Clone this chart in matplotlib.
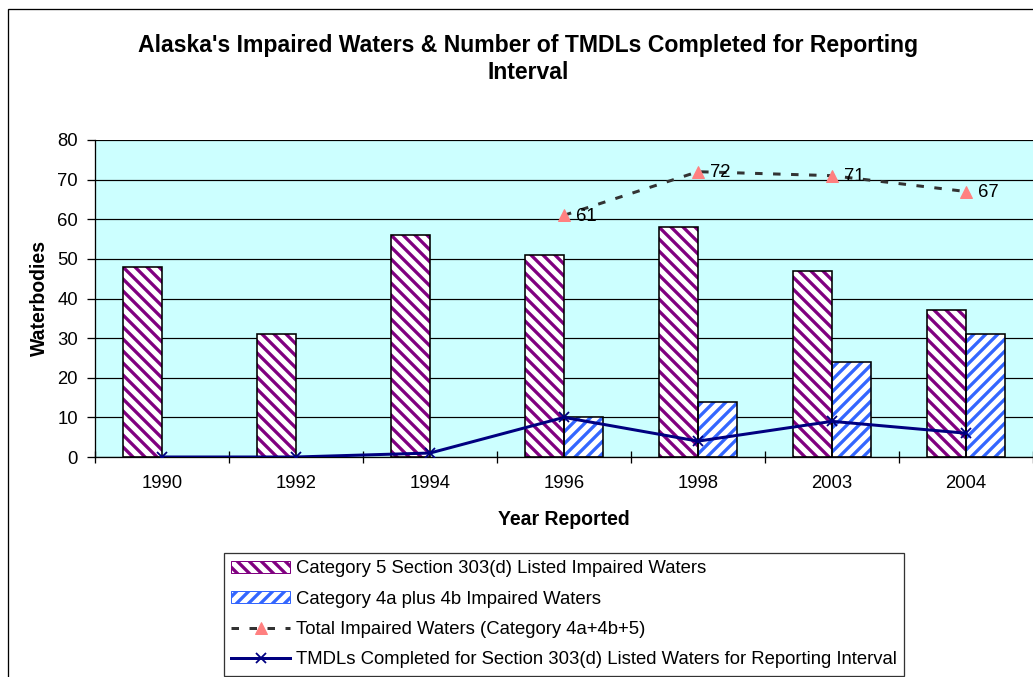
import numpy as np
import matplotlib
matplotlib.use("Agg")
import matplotlib.pyplot as plt
from matplotlib.patches import Rectangle
from matplotlib.lines import Line2D

# drawn at 72 dpi so that 1 pt == 1 px and the hatch tile gives Excel-like stripe spacing
DPI = 72
plt.rcParams["font.family"] = ["Liberation Sans", "DejaVu Sans"]
plt.rcParams["hatch.linewidth"] = 3.3

years = ["1990", "1992", "1994", "1996", "1998", "2003", "2004"]
cat5 = [48, 31, 56, 51, 58, 47, 37]
cat4 = [np.nan, np.nan, np.nan, 10, 14, 24, 31]
total = [np.nan, np.nan, np.nan, 61, 72, 71, 67]
tmdls = [0, 0, 1, 10, 4, 9, 6]

lbl_cat5 = "Category 5 Section 303(d) Listed Impaired Waters"
lbl_cat4 = "Category 4a plus 4b Impaired Waters"
lbl_total = "Total Impaired Waters (Category 4a+4b+5)"
lbl_tmdl = "TMDLs Completed for Section 303(d) Listed Waters for Reporting Interval"

purple = "#800080"
blue = "#3366ff"
W, H = 1033, 677

fig = plt.figure(figsize=(W / DPI, H / DPI), dpi=DPI)
# outer chart border (runs off the right/bottom edge like the original)
fig.patches.append(Rectangle((8 / W, -0.05), 1.1, 1 - 9 / H + 0.05,
                             transform=fig.transFigure, fill=False,
                             edgecolor="black", linewidth=1.3))

ax = fig.add_axes([95 / W, 1 - 457 / H, 938 / W, 317 / H])
ax.set_facecolor("#ccffff")

x = np.arange(len(years))
w = 0.29
ax.bar(x - w / 2, cat5, w, color="white", edgecolor=purple, hatch="\\\\", linewidth=0, zorder=2)
ax.bar(x - w / 2, cat5, w, fill=False, edgecolor="black", linewidth=1.6, zorder=3)
ax.bar(x + w / 2, cat4, w, color="white", edgecolor=blue, hatch="//", linewidth=0, zorder=2)
ax.bar(x + w / 2, cat4, w, fill=False, edgecolor="black", linewidth=1.6, zorder=3)

dash = (0, (2.5, 3.5))
ax.plot(x, total, linestyle=dash, color="#333333", linewidth=3,
        marker="^", markersize=12, markerfacecolor="#ff8080", markeredgecolor="#ff8080", zorder=4)
for xi, v in zip(x, total):
    if not np.isnan(v):
        ax.annotate(str(int(v)), (xi, v), xytext=(12, -1), textcoords="offset points",
                    fontsize=18.5, va="center", ha="left", zorder=5)

ax.plot(x, tmdls, color="#000080", linewidth=3, marker="x", markersize=10,
        markeredgewidth=1.8, zorder=4)

ax.set_xlim(-0.5, len(years) - 0.5)
ax.set_ylim(0, 80)
ax.set_yticks(range(0, 81, 10))
ax.yaxis.grid(True, color="black", linewidth=1.2, zorder=1)
ax.set_axisbelow(True)
ax.set_xticks(x)
ax.set_xticklabels(years)
ax.set_xticks(np.arange(-0.5, len(years), 1), minor=True)
ax.tick_params(axis="x", which="major", length=0, labelsize=18.5, pad=18)
ax.tick_params(axis="x", which="minor", direction="inout", length=12, width=1.3)
ax.tick_params(axis="y", direction="out", length=8, width=1.3, labelsize=18.5, pad=9)

for s in ["top", "right"]:
    ax.spines[s].set_visible(False)
ax.spines["left"].set_linewidth(1.3)
ax.spines["bottom"].set_linewidth(1.3)

ax.set_xlabel("Year Reported", fontsize=19.5, fontweight="bold", labelpad=18)
ax.set_ylabel("Waterbodies", fontsize=19.5, fontweight="bold", labelpad=8)

fig.text(0.511, 1 - 59 / H, "Alaska's Impaired Waters & Number of TMDLs Completed for Reporting\nInterval",
         ha="center", va="center", fontsize=23, fontweight="bold", linespacing=1.22)

handles = [
    Rectangle((0, 0), 1, 1, facecolor="white", edgecolor="black", hatch="\\\\"),
    Rectangle((0, 0), 1, 1, facecolor="white", edgecolor="black", hatch="//"),
    Line2D([], [], linestyle=dash, color="#333333", linewidth=3, marker="^",
           markersize=12, markerfacecolor="#ff8080", markeredgecolor="#ff8080"),
    Line2D([], [], color="#000080", linewidth=3, marker="x", markersize=10, markeredgewidth=1.8),
]
leg = fig.legend(handles, [lbl_cat5, lbl_cat4, lbl_total, lbl_tmdl],
                 loc="upper left", bbox_to_anchor=(224 / W, 1 - 553 / H),
                 fontsize=18.5, frameon=True, fancybox=False, edgecolor="black",
                 handlelength=3.15, handleheight=0.6, handletextpad=0.35, labelspacing=0.72,
                 borderpad=0.4, borderaxespad=0)
leg.get_frame().set_linewidth(1.3)
leg.legend_handles[0].set_edgecolor(purple)
leg.legend_handles[1].set_edgecolor(blue)

fig.savefig("out.png", dpi=DPI)
